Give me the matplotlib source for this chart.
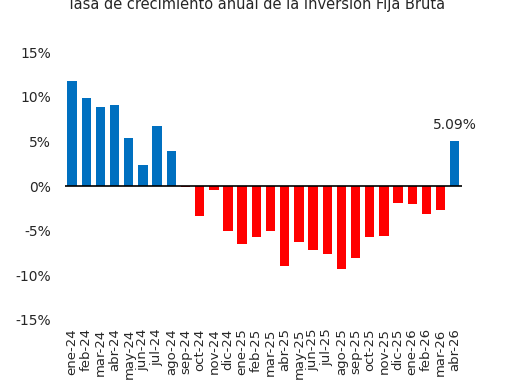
import matplotlib
matplotlib.use('Agg')
import matplotlib.pyplot as plt
import numpy as np

months = ['ene-24', 'feb-24', 'mar-24', 'abr-24', 'may-24', 'jun-24', 'jul-24', 'ago-24',
          'sep-24', 'oct-24', 'nov-24', 'dic-24', 'ene-25', 'feb-25', 'mar-25', 'abr-25',
          'may-25', 'jun-25', 'jul-25', 'ago-25', 'sep-25', 'oct-25', 'nov-25', 'dic-25',
          'ene-26', 'feb-26', 'mar-26', 'abr-26']
growth = [11.8, 9.85, 8.8, 9.1, 5.4, 2.4, 6.7, 3.95,
          -0.15, -3.35, -0.4, -5.0, -6.5, -5.7, -5.0, -8.9,
          -6.3, -7.2, -7.6, -9.3, -8.05, -5.7, -5.6, -1.95,
          -2.0, -3.1, -2.65, 5.09]
yticks = [-15, -10, -5, 0, 5, 10, 15]

plt.rcParams['font.family'] = 'DejaVu Sans'

fig = plt.figure(figsize=(5.14, 3.86), dpi=100)
ax = fig.add_axes([0.1265, 0.171, 0.772, 0.694])

x = np.arange(len(months))
colors = ['#0070C0' if v >= 0 else '#FF0000' for v in growth]
ax.bar(x, growth, width=0.66, color=colors, zorder=2)
ax.axhline(0, color='black', linewidth=1.2, zorder=3)

ax.set_xlim(-0.5, len(months) - 0.5)
ax.set_ylim(-15, 15)
ax.set_yticks(yticks)
ax.set_yticklabels([f'{t}%' for t in yticks], fontsize=10, color='#262626')
ax.set_xticks(x)
ax.set_xticklabels(months, rotation=90, fontsize=9.5, color='#262626')
ax.tick_params(length=0, axis='y', pad=10)
ax.tick_params(length=0, axis='x', pad=6)
for s in ax.spines.values():
    s.set_visible(False)

ax.annotate(f'{growth[-1]:.2f}%', (x[-1], growth[-1]), xytext=(0, 6),
            textcoords='offset points', ha='center', va='bottom',
            fontsize=10, color='#262626')

fig.text(0.498, 0.976, 'Tasa de crecimiento anual de la Inversión Fija Bruta',
         ha='center', va='baseline', fontsize=10.5, color='#262626')

fig.savefig('out.png', dpi=100)
